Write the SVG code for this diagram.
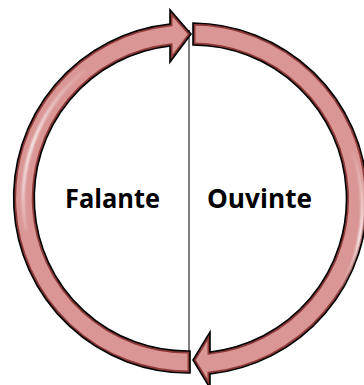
<svg xmlns="http://www.w3.org/2000/svg" width="364" height="385" viewBox="0 0 364 385">
<style>
.fillp{fill:#D99694}
.edge{fill:none;stroke:#8E3A38;stroke-width:5}
.out{fill:none;stroke:#000;stroke-width:1.6;stroke-linejoin:miter}
.hl{fill:none;stroke-width:3;stroke-linecap:round}
.lbl{font-family:"Open Sans","Liberation Sans",sans-serif;font-weight:700;font-size:27px;fill:#000;text-anchor:middle}
</style>
<defs>
<path id="pL" d="M190,373 A175,175 0 0 1 170,24 L170,10 L191,34 L170,62 L170,46 A153,153 0 0 0 190,351 Z"/>
<path id="pR" d="M193,23 A176,176 0 0 1 210,374 L210,388 L193,360 L210,332 L210,352 A154,154 0 0 0 193,45 Z"/>
<clipPath id="cL"><use href="#pL"/></clipPath>
<clipPath id="cR"><use href="#pR"/></clipPath>
<linearGradient id="gL" gradientUnits="userSpaceOnUse" x1="0" y1="60" x2="0" y2="245">
<stop offset="0" stop-color="#fff" stop-opacity="0"/>
<stop offset="0.45" stop-color="#fff" stop-opacity="0.85"/>
<stop offset="0.7" stop-color="#fff" stop-opacity="0.6"/>
<stop offset="1" stop-color="#fff" stop-opacity="0"/>
</linearGradient>
<linearGradient id="gR" gradientUnits="userSpaceOnUse" x1="0" y1="145" x2="0" y2="300">
<stop offset="0" stop-color="#fff" stop-opacity="0"/>
<stop offset="0.6" stop-color="#fff" stop-opacity="0.9"/>
<stop offset="1" stop-color="#fff" stop-opacity="0"/>
</linearGradient>
<filter id="blur" x="-20%" y="-20%" width="140%" height="140%"><feGaussianBlur stdDeviation="0.8"/></filter>
</defs>
<line id="divider" x1="189" y1="30" x2="189" y2="373" stroke="#3a3a3a" stroke-width="1.3"/>
<g id="connectors">
<g id="arrow-falante-ouvinte">
<use href="#pL" class="fillp"/>
<use href="#pL" class="edge" clip-path="url(#cL)"/>
<path class="hl" stroke="url(#gL)" filter="url(#blur)" d="M84,71 A166,166 0 0 0 26,230" clip-path="url(#cL)"/>
<use href="#pL" class="out"/>
</g>
<g id="arrow-ouvinte-falante">
<use href="#pR" class="fillp"/>
<use href="#pR" class="edge" clip-path="url(#cR)"/>
<path class="hl" stroke="url(#gR)" filter="url(#blur)" d="M352,150 A168,168 0 0 1 338,295" clip-path="url(#cR)"/>
<use href="#pR" class="out"/>
</g>
</g>
<g id="falante"><text class="lbl" x="112.5" y="208" textLength="95" lengthAdjust="spacingAndGlyphs">Falante</text></g>
<g id="ouvinte"><text class="lbl" x="259.5" y="208" textLength="105" lengthAdjust="spacingAndGlyphs">Ouvinte</text></g>
</svg>
